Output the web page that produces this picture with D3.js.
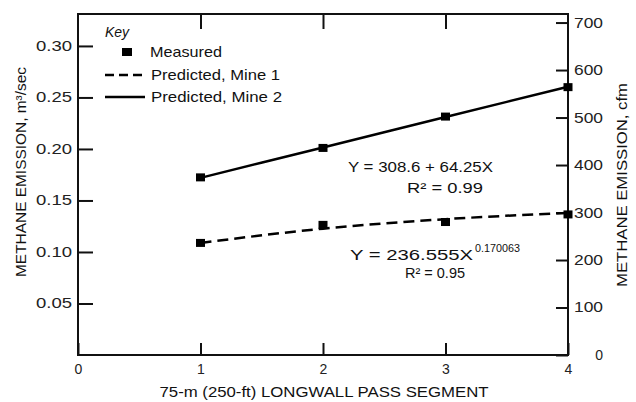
<!DOCTYPE html>
<html lang="en">
<head>
<meta charset="UTF-8">
<title>Methane emission by longwall pass segment</title>
<script src="https://d3js.org/d3.v7.min.js"></script>
<style>
    body { margin: 0; background: #fff; }
    svg { font-family: "Liberation Sans", Arial, sans-serif; fill: #111; }
    .axis text { font-size: 14px; fill: #222; }
    .axis line { stroke: #111; stroke-width: 2px; }
    .axis path { display: none; }
</style>
</head>
<body>
<script>
    // data (cfm)
    const segments = [1, 2, 3, 4];
    const measuredMine1 = [236, 274, 280, 296];
    const measuredMine2 = [374, 436, 502, 564];
    const predictedMine1 = [236, 266, 286, 299];
    const predictedMine2 = [373, 437, 501, 565];

    const xTicks = [0, 1, 2, 3, 4];
    const leftTicks = [0.05, 0.10, 0.15, 0.20, 0.25, 0.30];
    const rightTicks = [0, 100, 200, 300, 400, 500, 600, 700];

    const width = 636, height = 402;
    const m = { top: 14, right: 68, bottom: 47, left: 78 };

    const svg = d3.select("body").append("svg")
        .attr("width", width)
        .attr("height", height);

    const x = d3.scaleLinear().domain([0, 4]).range([m.left, width - m.right]);
    const yL = d3.scaleLinear().domain([0, 0.331]).range([height - m.bottom, m.top]);
    const yR = d3.scaleLinear().domain([0, 718]).range([height - m.bottom, m.top]);

    // axes, ticks pointing inward
    svg.append("g").attr("class", "axis")
        .attr("transform", `translate(${m.left},0)`)
        .call(d3.axisLeft(yL).tickValues(leftTicks).tickSize(-15).tickPadding(6).tickFormat(d3.format(".2f")))
        .selectAll("text")
        .attr("textLength", 36).attr("lengthAdjust", "spacingAndGlyphs");

    svg.append("g").attr("class", "axis")
        .attr("transform", `translate(${width - m.right},0)`)
        .call(d3.axisRight(yR).tickValues(rightTicks).tickSize(-12).tickPadding(35))
        .selectAll("text")
        .attr("text-anchor", "end")
        .attr("textLength", d => d ? 29 : null)
        .attr("lengthAdjust", "spacingAndGlyphs");

    svg.append("g").attr("class", "axis")
        .attr("transform", `translate(0,${height - m.bottom})`)
        .call(d3.axisBottom(x).tickValues(xTicks).tickSize(-12).tickPadding(9).tickFormat(d3.format("d")));

    svg.append("g").attr("class", "axis")
        .attr("transform", `translate(0,${m.top})`)
        .call(d3.axisTop(x).tickValues([1, 2, 3]).tickSize(-15).tickFormat(""));

    // frame
    svg.append("rect")
        .attr("x", m.left).attr("y", m.top)
        .attr("width", width - m.left - m.right)
        .attr("height", height - m.top - m.bottom)
        .attr("fill", "none").attr("stroke", "#111").attr("stroke-width", 2);

    // predicted lines
    const line = d3.line()
        .x((d, i) => x(segments[i]))
        .y(d => yR(d))
        .curve(d3.curveMonotoneX);

    svg.append("path").datum(predictedMine1)
        .attr("d", line).attr("fill", "none")
        .attr("stroke", "#000").attr("stroke-width", 2.5)
        .attr("stroke-dasharray", "11,6");

    svg.append("path").datum(predictedMine2)
        .attr("d", line).attr("fill", "none")
        .attr("stroke", "#000").attr("stroke-width", 2.5);

    // measured points
    const pts = segments.map((s, i) => [s, measuredMine1[i]])
        .concat(segments.map((s, i) => [s, measuredMine2[i]]));
    svg.selectAll("rect.pt").data(pts).enter().append("rect")
        .attr("class", "pt")
        .attr("x", d => x(d[0]) - 4.5)
        .attr("y", d => yR(d[1]) - 4)
        .attr("width", 9).attr("height", 8)
        .attr("fill", "#000");

    // key
    const key = svg.append("g").attr("transform", "translate(105,0)");
    key.append("text").attr("x", 0).attr("y", 37)
        .attr("font-size", 14).attr("font-style", "italic").text("Key");
    key.append("rect").attr("x", 17).attr("y", 48).attr("width", 10).attr("height", 8).attr("fill", "#000");
    key.append("text").attr("x", 45).attr("y", 57).attr("font-size", 15)
        .attr("textLength", 72).attr("lengthAdjust", "spacingAndGlyphs").text("Measured");
    key.append("line").attr("x1", 0).attr("x2", 40).attr("y1", 75).attr("y2", 75)
        .attr("stroke", "#000").attr("stroke-width", 2.5).attr("stroke-dasharray", "9,5");
    key.append("text").attr("x", 46).attr("y", 80).attr("font-size", 15)
        .attr("textLength", 129).attr("lengthAdjust", "spacingAndGlyphs").text("Predicted, Mine 1");
    key.append("line").attr("x1", 0).attr("x2", 40).attr("y1", 97).attr("y2", 97)
        .attr("stroke", "#000").attr("stroke-width", 2.5);
    key.append("text").attr("x", 46).attr("y", 102).attr("font-size", 15)
        .attr("textLength", 131).attr("lengthAdjust", "spacingAndGlyphs").text("Predicted, Mine 2");

    // regression equations
    const eq = svg.append("g").attr("font-size", 14);
    eq.append("text").attr("x", 348).attr("y", 172)
        .attr("textLength", 145).attr("lengthAdjust", "spacingAndGlyphs").text("Y = 308.6 + 64.25X");
    eq.append("text").attr("x", 407).attr("y", 193)
        .attr("textLength", 76).attr("lengthAdjust", "spacingAndGlyphs").text("R² = 0.99");
    eq.append("text").attr("x", 350).attr("y", 260)
        .attr("textLength", 123).attr("lengthAdjust", "spacingAndGlyphs").text("Y = 236.555X");
    eq.append("text").attr("x", 475).attr("y", 252).attr("font-size", 11)
        .attr("textLength", 45).attr("lengthAdjust", "spacingAndGlyphs").text("0.170063");
    eq.append("text").attr("x", 405).attr("y", 278)
        .attr("textLength", 60).attr("lengthAdjust", "spacingAndGlyphs").text("R² = 0.95");

    // axis titles
    svg.append("text")
        .attr("transform", "translate(26,172) rotate(-90)")
        .attr("text-anchor", "middle").attr("font-size", 14)
        .attr("textLength", 210).attr("lengthAdjust", "spacingAndGlyphs")
        .text("METHANE EMISSION, m³/sec");

    svg.append("text")
        .attr("transform", "translate(627,185) rotate(-90)")
        .attr("text-anchor", "middle").attr("font-size", 14)
        .attr("textLength", 204).attr("lengthAdjust", "spacingAndGlyphs")
        .text("METHANE EMISSION, cfm");

    svg.append("text")
        .attr("x", 324).attr("y", 397)
        .attr("text-anchor", "middle").attr("font-size", 14)
        .attr("textLength", 329).attr("lengthAdjust", "spacingAndGlyphs")
        .text("75-m (250-ft) LONGWALL PASS SEGMENT");
</script>
</body>
</html>
